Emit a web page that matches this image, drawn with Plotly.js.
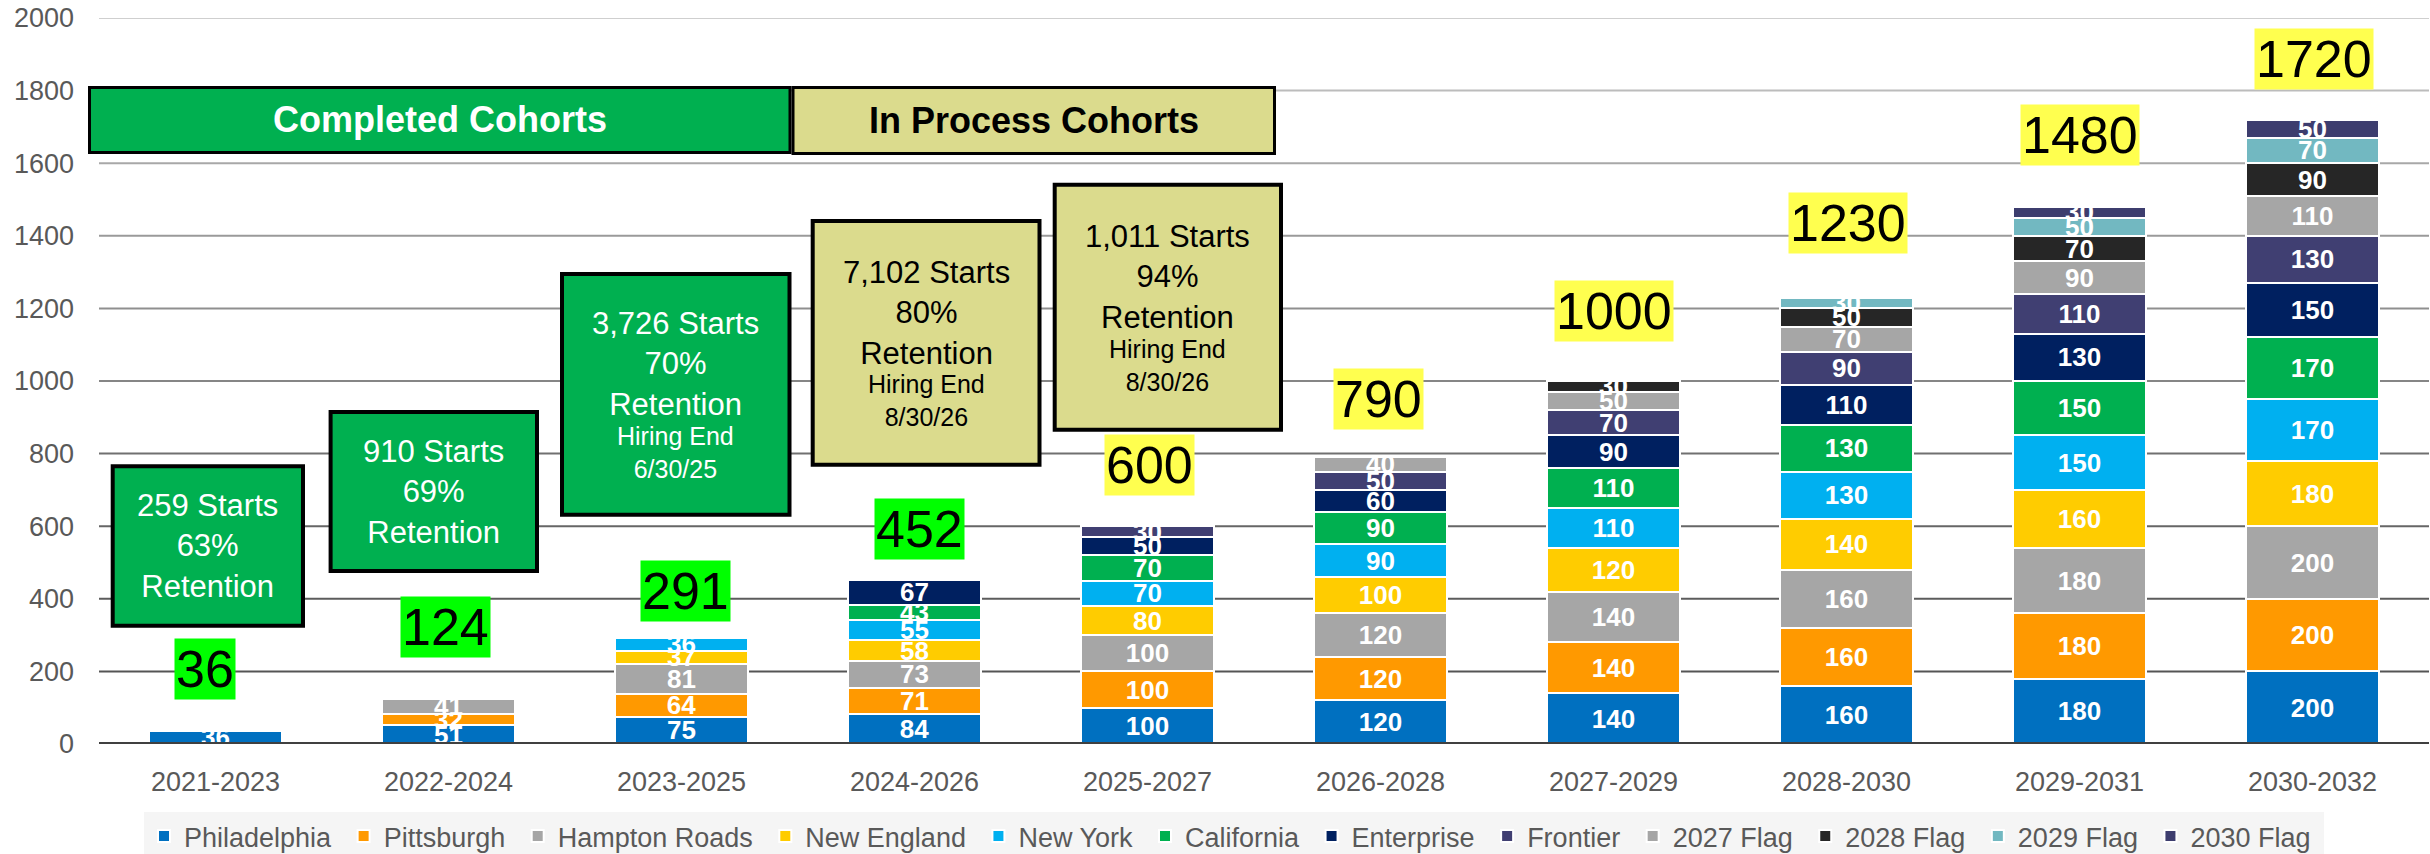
<!DOCTYPE html>
<html>
<head>
<meta charset="utf-8">
<script src="https://cdn.plot.ly/plotly-3.0.1.min.js"></script>
<style>
html,body{margin:0;padding:0;background:#ffffff;}
#chart{width:2430px;height:854px;}
</style>
</head>
<body>
<div id="chart"></div>
<script>
// ---------------- DATA ----------------
const categories = ['2021-2023','2022-2024','2023-2025','2024-2026','2025-2027','2026-2028','2027-2029','2028-2030','2029-2031','2030-2032'];
const philadelphia = [36, 51, 75, 84, 100, 120, 140, 160, 180, 200];
const pittsburgh   = [null, 32, 64, 71, 100, 120, 140, 160, 180, 200];
const hamptonRoads = [null, 41, 81, 73, 100, 120, 140, 160, 180, 200];
const newEngland   = [null, null, 37, 58, 80, 100, 120, 140, 160, 180];
const newYork      = [null, null, 36, 55, 70, 90, 110, 130, 150, 170];
const california   = [null, null, null, 43, 70, 90, 110, 130, 150, 170];
const enterprise   = [null, null, null, 67, 50, 60, 90, 110, 130, 150];
const frontier     = [null, null, null, 1, 30, 50, 70, 90, 110, 130];
const flag2027     = [null, null, null, null, null, 40, 50, 70, 90, 110];
const flag2028     = [null, null, null, null, null, null, 30, 50, 70, 90];
const flag2029     = [null, null, null, null, null, null, null, 30, 50, 70];
const flag2030     = [null, null, null, null, null, null, null, null, 30, 50];
const totals       = [36, 124, 291, 452, 600, 790, 1000, 1230, 1480, 1720];

const seriesNames = ['Philadelphia','Pittsburgh','Hampton Roads','New England','New York','California','Enterprise','Frontier','2027 Flag','2028 Flag','2029 Flag','2030 Flag'];
const seriesValues = [philadelphia, pittsburgh, hamptonRoads, newEngland, newYork, california, enterprise, frontier, flag2027, flag2028, flag2029, flag2030];

const cohortBoxText = [
  {main: '259 Starts<br>63%<br>Retention', small: ''},
  {main: '910 Starts<br>69%<br>Retention', small: ''},
  {main: '3,726 Starts<br>70%<br>Retention', small: 'Hiring End<br>6/30/25'},
  {main: '7,102 Starts<br>80%<br>Retention', small: 'Hiring End<br>8/30/26'},
  {main: '1,011 Starts<br>94%<br>Retention', small: 'Hiring End<br>8/30/26'}
];

// ---------------- STYLE / LAYOUT ----------------
const FONT = 'Liberation Sans, Arial, sans-serif';
const seriesColors = ['#0070C0','#FF9900','#A6A6A6','#FFCC00','#00B0F0','#00B050','#002060','#403F72','#A6A6A6','#262626','#72B8C1','#3D3D6E'];

const W = 2430, H = 854;
const M = {l: 99, r: 1, t: 18, b: 110, autoexpand: false};
const PW = W - M.l - M.r, PH = H - M.t - M.b;
const px2x = p => (p - M.l) / PW;
const px2y = p => (H - M.b - p) / PH;

const traces = seriesNames.map((name, i) => ({
  type: 'bar',
  name: name + '\u00a0',
  x: categories,
  y: seriesValues[i],
  text: seriesValues[i].map(v => (v == null || v < 5) ? '' : String(v)),
  textposition: 'inside',
  insidetextanchor: 'middle',
  textangle: 0,
  textfont: {family: FONT, size: 26, color: '#ffffff', weight: 'bold'},
  marker: {color: seriesColors[i], line: {color: '#ffffff', width: 2}},
  hoverinfo: 'skip'
}));

const shapes = [];
// gridlines (lighter toward the top as in the reference)
const gridVals = [200,400,600,800,1000,1200,1400,1600,1800,2000];
const gridCols = ['#555555','#5c5c5c','#666666','#707070','#868686','#8f8f8f','#9a9a9a','#a8a8a8','#bcbcbc','#cfcfcf'];
gridVals.forEach((v, i) => shapes.push({type:'line', xref:'paper', x0:0, x1:1, yref:'y', y0:v, y1:v, layer:'below', line:{color:gridCols[i], width:2}}));
// baseline
shapes.push({type:'line', xref:'paper', x0:0, x1:1, yref:'y', y0:0, y1:0, layer:'above', line:{color:'#404040', width:4}});

// callout boxes (pixel geometry of the reference)
const GREEN = '#00B050', KHAKI = '#DBDB8D';
const boxes = [
  {r:[88, 86, 791.5, 154],   fill:GREEN, lw:3},
  {r:[791.5, 86, 1276, 155], fill:KHAKI, lw:3},
  {r:[110.7, 464.3, 305, 627.7], fill:GREEN, lw:4},
  {r:[328.6, 410, 539, 573],     fill:GREEN, lw:4},
  {r:[560, 272, 791.5, 516.7],   fill:GREEN, lw:4},
  {r:[810.7, 219, 1041.5, 466.7], fill:KHAKI, lw:4},
  {r:[1052.7, 182.7, 1283, 431.7], fill:KHAKI, lw:4}
];
boxes.forEach(b => {
  const h = b.lw / 2;
  shapes.push({type:'rect', xref:'paper', yref:'paper', layer:'above',
    x0:px2x(b.r[0]+h), x1:px2x(b.r[2]-h), y0:px2y(b.r[3]-h), y1:px2y(b.r[1]+h),
    fillcolor:b.fill, line:{color:'#000000', width:b.lw}});
});

const annotations = [];
// header texts
annotations.push({xref:'paper', yref:'paper', x:px2x((88+791.5)/2), y:px2y(120), text:'<b>Completed Cohorts</b>', showarrow:false,
  font:{family:FONT, size:36, color:'#ffffff'}, xanchor:'center', yanchor:'middle'});
annotations.push({xref:'paper', yref:'paper', x:px2x((791.5+1276)/2), y:px2y(120.5), text:'<b>In Process Cohorts</b>', showarrow:false,
  font:{family:FONT, size:36, color:'#000000'}, xanchor:'center', yanchor:'middle'});
// cohort boxes text
cohortBoxText.forEach((t, i) => {
  const b = boxes[i + 2];
  const cx = (b.r[0] + b.r[2]) / 2, cy = (b.r[1] + b.r[3]) / 2;
  const col = b.fill === GREEN ? '#ffffff' : '#000000';
  const mainY = t.small ? cy - 30 : cy;
  annotations.push({xref:'paper', yref:'paper', x:px2x(cx), y:px2y(mainY), text:t.main, showarrow:false,
    font:{family:FONT, size:31, color:col}, xanchor:'center', yanchor:'middle'});
  if (t.small) {
    annotations.push({xref:'paper', yref:'paper', x:px2x(cx), y:px2y(cy + 58), text:t.small, showarrow:false,
      font:{family:FONT, size:25, color:col}, xanchor:'center', yanchor:'middle'});
  }
});
// total labels (placed above each bar as callouts)
const totalLabelY = [207, 323, 422, 593, 769, 951, 1193, 1435, 1677, 1886];
const totalLabelXShift = [-11, -3, 4, 5, 2, -2, 0, 1, 0, 1];
categories.forEach((c, i) => {
  annotations.push({x:c, y:totalLabelY[i], xref:'x', yref:'y', text:String(totals[i]), showarrow:false,
    xshift: totalLabelXShift[i],
    font:{family:FONT, size:52, color:'#000000'}, bgcolor: i < 4 ? '#00FF00' : '#FFFF4F', borderpad:1,
    xanchor:'center', yanchor:'middle'});
});

const layout = {
  width: W, height: H,
  margin: M,
  paper_bgcolor: '#ffffff', plot_bgcolor: '#ffffff',
  barmode: 'stack',
  bargap: 0.43,
  showlegend: true,
  uniformtext: {mode: 'show', minsize: 26},
  font: {family: FONT, color: '#595959'},
  xaxis: {type:'category', showgrid:false, zeroline:false, showline:false, ticks:'', automargin:false,
    tickfont:{family:FONT, size:27, color:'#595959'}, ticklabelstandoff: 19, fixedrange:true},
  yaxis: {range:[0, 2000], dtick:200, showgrid:false, zeroline:false, showline:false, ticks:'', automargin:false,
    tickfont:{family:FONT, size:27, color:'#595959'}, ticklabelstandoff: 24, fixedrange:true},
  legend: {orientation:'h', x:px2x(1234), xanchor:'center', y:px2y(812), yanchor:'top',
    traceorder:'normal', bgcolor:'#F5F5F5', font:{family:FONT, size:27, color:'#595959'},
    itemclick:false, itemdoubleclick:false},
  shapes: shapes,
  annotations: annotations
};

Plotly.newPlot('chart', traces, layout, {displayModeBar:false, staticPlot:true});
</script>
</body>
</html>
